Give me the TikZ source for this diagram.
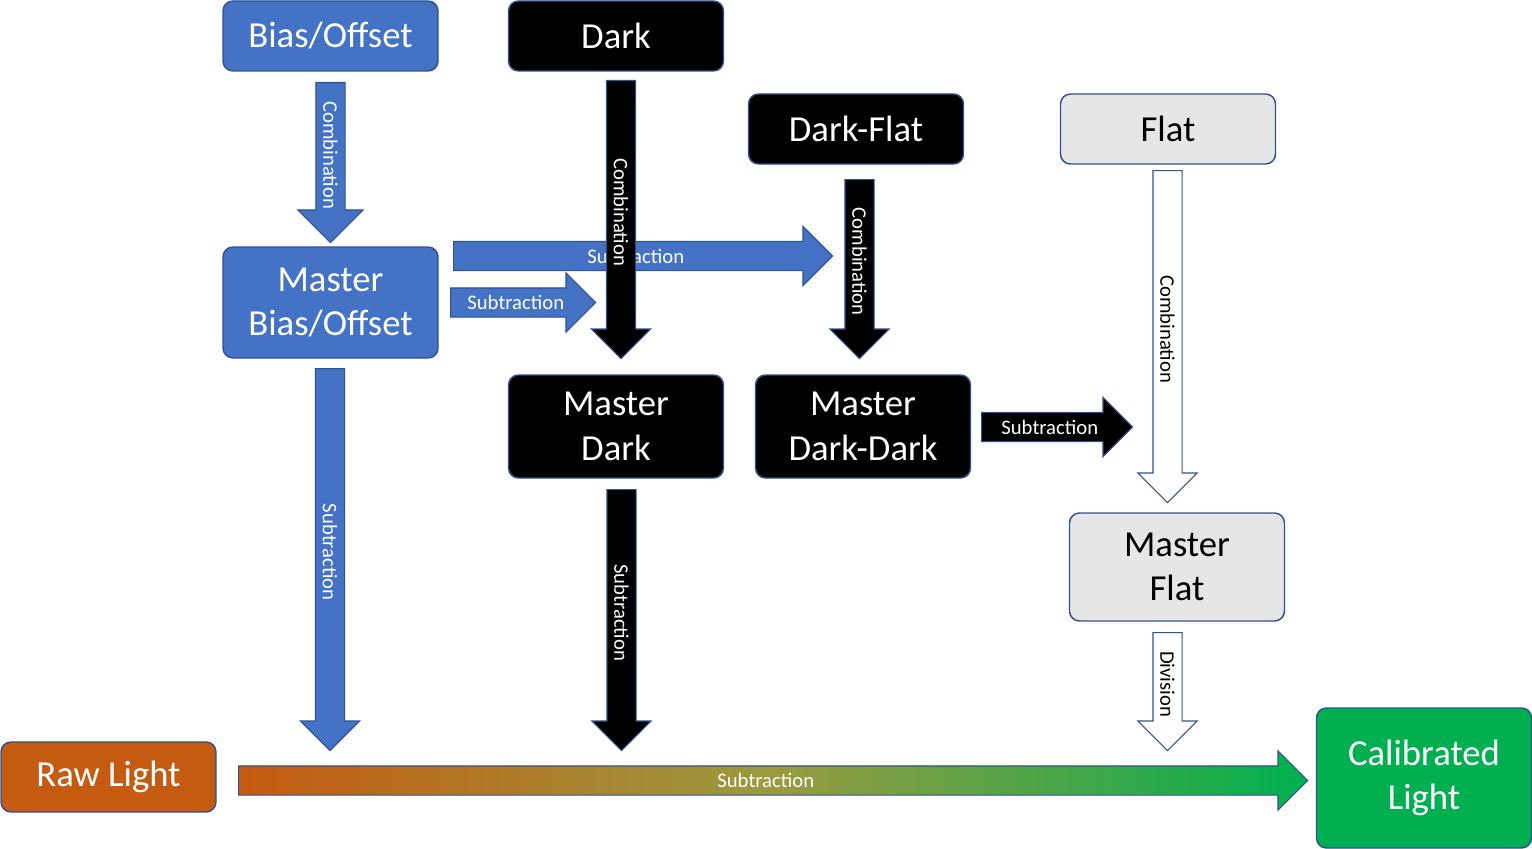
\documentclass[tikz,border=0pt]{standalone}
\usepackage{fontspec}
\setmainfont{Carlito}
\usetikzlibrary{shapes.arrows}
\definecolor{boxblue}{HTML}{4472C4}
\definecolor{edgeblue}{HTML}{2F528F}
\definecolor{flatgray}{HTML}{E7E6E6}
\definecolor{raworange}{HTML}{C55A11}
\definecolor{midolive}{HTML}{9A9A40}
\definecolor{calgreen}{HTML}{00B050}

\begin{document}
\begin{tikzpicture}[x=0.75pt,y=-0.75pt,
  box/.style={draw=edgeblue, line width=1.1pt, rounded corners=7.5pt, minimum width=161.25pt,
    minimum height=52.5pt, inner sep=0pt, align=center, font=\fontsize{27.5}{33.5}\selectfont},
  bluebox/.style={box, fill=boxblue, text=white},
  blackbox/.style={box, fill=black, text=white},
  graybox/.style={box, fill=flatgray, text=black},
  flow/.style={single arrow, draw=edgeblue, line width=0.8pt, single arrow tip angle=90,
    single arrow head extend=11.25pt, inner sep=0pt, text height=15.9pt, text depth=5.1pt,
    anchor=tail, font=\fontsize{15.5}{18}\selectfont},
  flowdown/.style={flow, rotate=-90},
  blueflow/.style={fill=boxblue, text=white},
  blackflow/.style={fill=black, text=white},
  whiteflow/.style={fill=white, text=black}]
\useasboundingbox (0,0) rectangle (1532,849);

% frames
\node[bluebox] (bias) at (330.5,36) {Bias/Offset};
\node[blackbox] (dark) at (616,36) {Dark};
\node[blackbox] (darkflat) at (856,129) {Dark-Flat};
\node[graybox] (flat) at (1168,129) {Flat};
\node[bluebox, minimum height=83.25pt] (mbias) at (330.5,302.5) {Master\\Bias/Offset};
\node[blackbox, minimum height=77.25pt] (mdark) at (616,426.5) {Master\\Dark};
\node[blackbox, minimum height=77.25pt] (mdarkdark) at (863,426.5) {Master\\Dark-Dark};
\node[graybox, minimum height=81pt] (mflat) at (1177,567) {Master\\Flat};
\node[box, fill=raworange, text=white] (raw) at (108.5,777) {Raw Light};
\node[box, fill=calgreen, text=white, minimum height=105pt] (cal) at (1424,778) {Calibrated\\Light};

% operations
\node[flowdown, blueflow, single arrow head extend=13.5pt,
  minimum height=120pt] (biascomb) at (330.5,82) {Combination};
\node[flow, blueflow, minimum height=284.25pt] (darksub) at (453,256) {Subtraction};
\node[flow, blueflow, minimum height=108.75pt] (biassub) at (450,302.5) {Subtraction};
\node[flowdown, blackflow, minimum height=208.5pt] (darkcomb) at (621,80) {Combination};
\node[flowdown, blackflow, minimum height=134.25pt] (dfcomb) at (859.5,179) {Combination};
\node[flowdown, whiteflow, minimum height=249pt] (flatcomb) at (1167.5,170) {Combination};
\node[flow, blackflow, minimum height=113.25pt] (ddsub) at (981,427) {Subtraction};
\node[flowdown, blueflow, minimum height=286.5pt] (mbsub) at (330,368) {Subtraction};
\node[flowdown, blackflow, minimum height=195.75pt] (mdsub) at (621.5,489) {Subtraction};
\node[flowdown, whiteflow, minimum height=88.5pt] (divi) at (1167.5,632) {Division};
\node[flow, shade, left color=raworange, right color=calgreen, middle color=midolive,
  text=white, minimum height=801.75pt] (lightsub) at (238,780.5) {Subtraction};
\end{tikzpicture}
\end{document}
